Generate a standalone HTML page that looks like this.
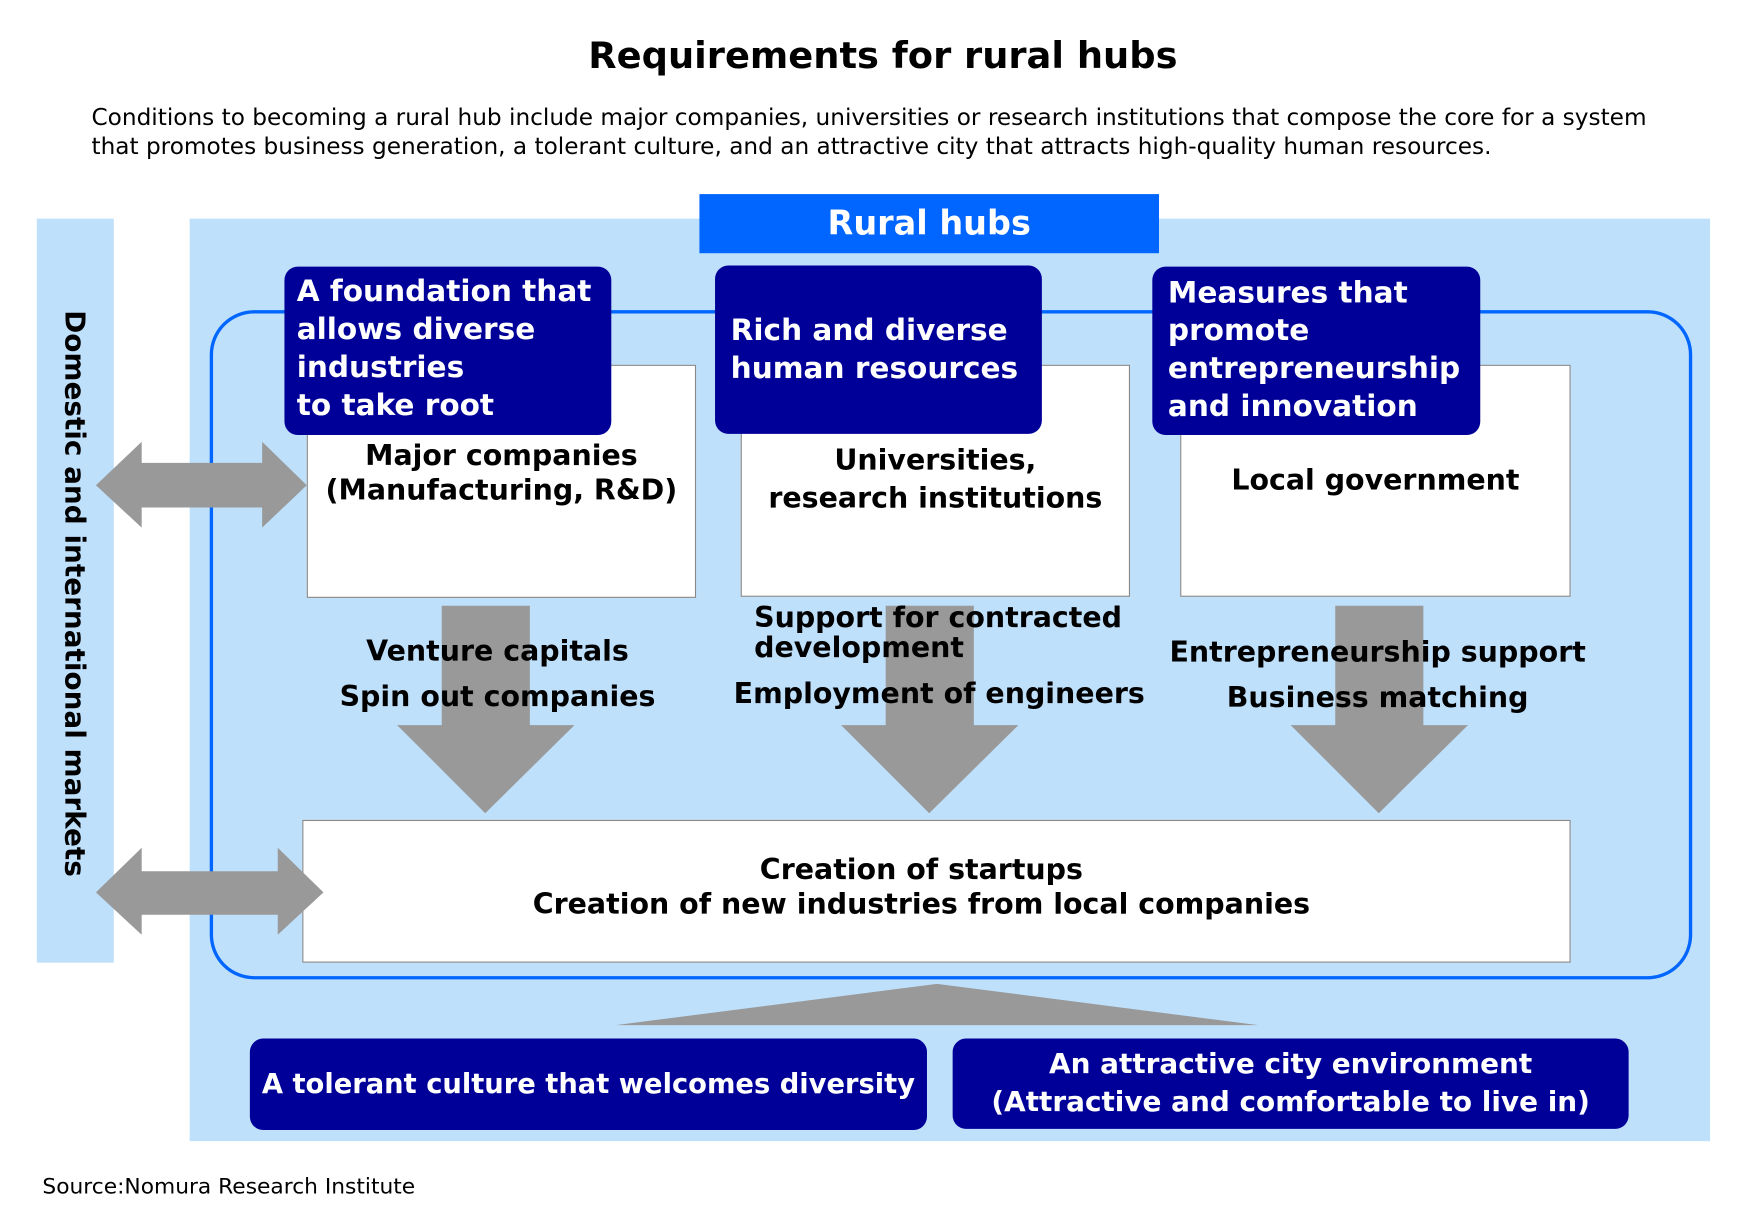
<!DOCTYPE html>
<html><head><meta charset="utf-8"><style>
html,body{margin:0;padding:0;background:#fff;width:1748px;height:1225px;overflow:hidden}
#s{position:absolute;left:0;top:0;width:1567px;height:1098px;transform:scale(1.1155);transform-origin:0 0;font-family:"DejaVu Sans","Liberation Sans",sans-serif;color:#000}
.a{position:absolute}
.nv{position:absolute;background:#000099;color:#fff;font-weight:bold;border-radius:12px;box-sizing:border-box}
.wb{position:absolute;background:#fff;border:1px solid #888;box-sizing:border-box;text-align:center;font-weight:bold;font-size:26px}
.t{position:absolute;font-weight:bold;font-size:25.5px;white-space:nowrap}
</style></head><body><div id="s">
<div class="a" style="left:0;width:1583px;top:30px;text-align:center;font-weight:bold;font-size:33px">Requirements for rural hubs</div>
<div class="a" style="left:82px;top:92px;font-size:20.8px;line-height:26px;white-space:nowrap">Conditions to becoming a rural hub include major companies, universities or research institutions that compose the core for a system<br>that promotes business generation, a tolerant culture, and an attractive city that attracts high-quality human resources.</div>
<div class="a" style="left:33px;top:196px;width:69px;height:667px;background:#bfe0fb"></div>
<div class="a" style="left:170px;top:196px;width:1363px;height:827px;background:#bfe0fb"></div>
<div class="a" style="left:67px;top:532px;width:0;height:0"><div style="position:absolute;transform:translate(-50%,-50%) rotate(90deg);white-space:nowrap;font-weight:bold;font-size:25px">Domestic and international markets</div></div>
<div class="a" style="left:188px;top:278px;width:1329px;height:600px;border:3px solid #0066ff;border-radius:40px;box-sizing:border-box"></div>
<div class="a" style="left:627px;top:174px;width:412px;height:53px;background:#0066ff;color:#fff;font-weight:bold;font-size:30px;text-align:center;line-height:53px">Rural hubs</div>
<div class="wb" style="left:275px;top:327px;width:349px;height:209px"></div>
<div class="wb" style="left:664px;top:327px;width:349px;height:208px"></div>
<div class="wb" style="left:1058px;top:327px;width:350px;height:208px"></div>
<div class="wb" style="left:271px;top:735px;width:1137px;height:128px"></div>
<svg class="a" style="left:0;top:0" width="1567" height="1098">
<g fill="#999">
<polygon points="396,543 475,543 475,650 515,650 435,729 356,650 396,650"/>
<polygon points="794,543 873,543 873,650 913,650 833,729 754,650 794,650"/>
<polygon points="1197,543 1276,543 1276,650 1316,650 1236,729 1157,650 1197,650"/>
<polygon points="86,435 127,396 127,415 235,415 235,396 275,435 235,473 235,455 127,455 127,473"/>
<polygon points="86,800 127,760 127,781 249,781 249,760 290,800 249,838 249,820 127,820 127,838"/>
<polygon points="552,919 840,882 1128,919"/>
</g></svg>
<div class="nv" style="left:255px;top:239px;width:293px;height:151px;padding:6px 0 0 11px;font-size:26.5px;line-height:34px">A foundation that<br>allows diverse<br>industries<br>to take root</div>
<div class="nv" style="left:641px;top:238px;width:293px;height:151px;padding:42px 0 0 14px;font-size:26.5px;line-height:34px">Rich and diverse<br>human resources</div>
<div class="nv" style="left:1033px;top:239px;width:294px;height:151px;padding:7px 0 0 14px;font-size:26.5px;line-height:34px">Measures that<br>promote<br>entrepreneurship<br>and innovation</div>
<div class="t" style="left:275px;width:349px;top:394px;text-align:center;line-height:31px">Major companies<br>(Manufacturing, R&amp;D)</div>
<div class="t" style="left:664px;width:349px;top:396px;text-align:center;line-height:34px">Universities,<br>research institutions</div>
<div class="t" style="left:1058px;width:350px;top:416px;text-align:center">Local government</div>
<div class="t" style="left:246px;width:400px;top:564px;text-align:center;line-height:41px">Venture capitals<br>Spin out companies</div>
<div class="t" style="left:676px;top:541px;line-height:27px">Support for contracted<br>development</div>
<div class="t" style="left:642px;width:400px;top:607px;text-align:center">Employment of engineers</div>
<div class="t" style="left:1035px;width:400px;top:565px;text-align:center;line-height:41px">Entrepreneurship support<br>Business matching</div>
<div class="t" style="left:271px;width:1110px;top:765px;text-align:center;line-height:31px">Creation of startups<br>Creation of new industries from local companies</div>
<div class="nv" style="left:224px;top:931px;width:607px;height:82px;font-size:24.5px;line-height:82px;text-align:center;white-space:nowrap">A tolerant culture that welcomes diversity</div>
<div class="nv" style="left:854px;top:931px;width:606px;height:81px;font-size:25px;line-height:34px;padding-top:6px;text-align:center;white-space:nowrap">An attractive city environment<br>(Attractive and comfortable to live in)</div>
<div class="a" style="left:38px;top:1052px;font-size:19.5px">Source:Nomura Research Institute</div>
</div></body></html>
